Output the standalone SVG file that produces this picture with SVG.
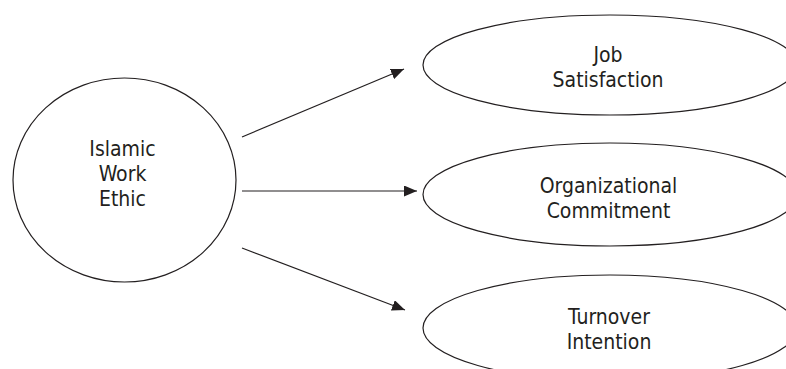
<svg xmlns="http://www.w3.org/2000/svg" width="786" height="369" viewBox="0 0 786 369">
<defs>
<style>
.node{fill:#fff;stroke:#231f20;stroke-width:1.2}
.lbl{font-family:"DejaVu Sans Condensed","Liberation Sans",Arial,sans-serif;font-size:21px;fill:#231f20;text-anchor:middle}
.conn{stroke:#231f20;stroke-width:1.2;fill:none}
</style>
<marker id="arr" viewBox="0 0 13 11" refX="13" refY="5.5" markerWidth="13" markerHeight="11" markerUnits="userSpaceOnUse" orient="auto">
<path d="M0,0 L13,5.5 L0,11 z" fill="#231f20"/>
</marker>
</defs>
<rect width="786" height="369" fill="#fff"/>
<g id="iwe">
<ellipse class="node" cx="124.5" cy="180" rx="111.5" ry="102"/>
<text class="lbl" x="122.5" y="156">Islamic</text>
<text class="lbl" x="122.5" y="181">Work</text>
<text class="lbl" x="122.5" y="206">Ethic</text>
</g>
<g id="js">
<ellipse class="node" cx="610" cy="65" rx="187" ry="50"/>
<text class="lbl" x="608" y="62">Job</text>
<text class="lbl" x="608" y="87">Satisfaction</text>
</g>
<g id="oc">
<ellipse class="node" cx="610" cy="194.5" rx="187" ry="51.5"/>
<text class="lbl" x="608.5" y="193">Organizational</text>
<text class="lbl" x="608.5" y="218">Commitment</text>
</g>
<g id="ti">
<ellipse class="node" cx="610" cy="328" rx="187" ry="53"/>
<text class="lbl" x="609" y="324">Turnover</text>
<text class="lbl" x="609" y="349">Intention</text>
</g>
<g id="connectors">
<line class="conn" x1="242" y1="137" x2="404" y2="69" marker-end="url(#arr)"/>
<line class="conn" x1="242" y1="191" x2="417" y2="191" marker-end="url(#arr)"/>
<line class="conn" x1="242" y1="248" x2="405" y2="310" marker-end="url(#arr)"/>
</g>
</svg>
